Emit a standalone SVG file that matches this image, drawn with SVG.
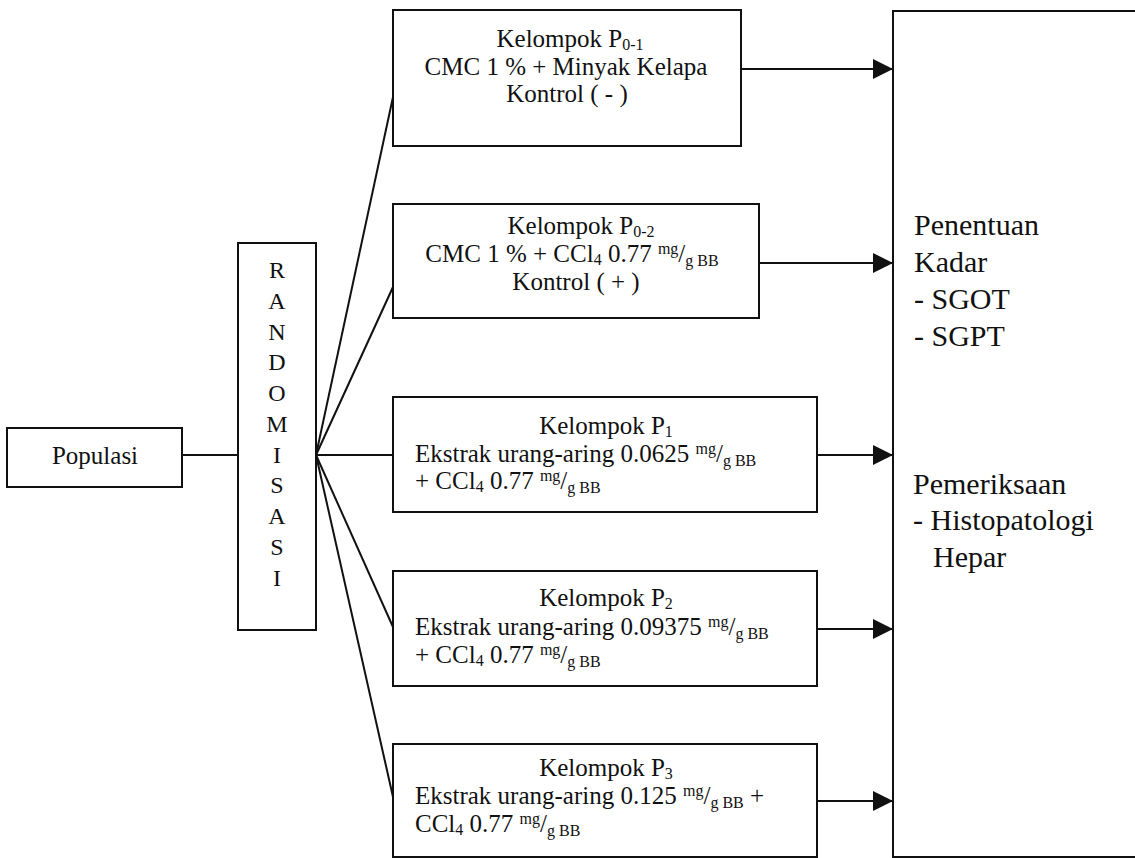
<svg xmlns="http://www.w3.org/2000/svg" width="1135" height="858" viewBox="0 0 1135 858" font-family="'Liberation Serif', 'DejaVu Serif', serif">
<style>
.box{fill:#fff;stroke:#111;stroke-width:2}
.ln{stroke:#111;stroke-width:2;fill:none}
text{font-family:'Liberation Serif','DejaVu Serif',serif;fill:#111;font-size:25px}
.c{text-anchor:middle}
.big{font-size:30px}
.s{font-size:16px}
.r{font-size:24px}
</style>
<defs>
<marker id="ah" viewBox="0 0 20 20" refX="20" refY="10" markerWidth="20" markerHeight="20" markerUnits="userSpaceOnUse" orient="auto">
<path d="M0,0 L20,10 L0,20 Z" fill="#111"/>
</marker>
</defs>
<g id="connectors">
<line class="ln" x1="182" y1="455" x2="238" y2="455"/>
<line class="ln" x1="316" y1="455" x2="393" y2="97"/>
<line class="ln" x1="316" y1="455" x2="393" y2="287"/>
<line class="ln" x1="316" y1="455" x2="393" y2="455"/>
<line class="ln" x1="316" y1="455" x2="393" y2="627"/>
<line class="ln" x1="316" y1="455" x2="393" y2="797"/>
<line class="ln" x1="741" y1="69" x2="893" y2="69" marker-end="url(#ah)"/>
<line class="ln" x1="759" y1="263" x2="893" y2="263" marker-end="url(#ah)"/>
<line class="ln" x1="817" y1="455" x2="893" y2="455" marker-end="url(#ah)"/>
<line class="ln" x1="817" y1="629" x2="893" y2="629" marker-end="url(#ah)"/>
<line class="ln" x1="817" y1="801" x2="893" y2="801" marker-end="url(#ah)"/>
</g>
<g id="populasi">
<rect class="box" x="7" y="428" width="175" height="59"/>
<text class="c" x="95" y="464">Populasi</text>
</g>
<g id="randomisasi">
<rect class="box" x="238" y="243" width="78" height="387"/>
<text class="c r" x="277" y="278">R</text>
<text class="c r" x="277" y="309">A</text>
<text class="c r" x="277" y="340">N</text>
<text class="c r" x="277" y="370">D</text>
<text class="c r" x="277" y="401">O</text>
<text class="c r" x="277" y="432">M</text>
<text class="c r" x="277" y="463">I</text>
<text class="c r" x="277" y="493">S</text>
<text class="c r" x="277" y="524">A</text>
<text class="c r" x="277" y="555">S</text>
<text class="c r" x="277" y="586">I</text>
</g>
<g id="p01">
<rect class="box" x="393" y="10" width="348" height="136"/>
<text class="c" x="570" y="47">Kelompok P<tspan class="s" dy="3">0-1</tspan></text>
<text class="c" x="566" y="75">CMC 1 % + Minyak Kelapa</text>
<text class="c" x="567" y="102">Kontrol ( - )</text>
</g>
<g id="p02">
<rect class="box" x="393" y="204" width="366" height="114"/>
<text class="c" x="581" y="234">Kelompok P<tspan class="s" dy="3">0-2</tspan></text>
<text class="c" x="572" y="262">CMC 1 % + CCl<tspan class="s" dy="3">4</tspan><tspan dy="-3"> 0.77 </tspan><tspan class="s" dy="-8">mg</tspan><tspan dy="8">/</tspan><tspan class="s" dy="4">g BB</tspan></text>
<text class="c" x="576" y="290">Kontrol ( + )</text>
</g>
<g id="p1">
<rect class="box" x="393" y="397" width="424" height="115"/>
<text class="c" x="606" y="434">Kelompok P<tspan class="s" dy="3">1</tspan></text>
<text x="415" y="462">Ekstrak urang-aring 0.0625 <tspan class="s" dy="-8">mg</tspan><tspan dy="8">/</tspan><tspan class="s" dy="4">g BB</tspan></text>
<text x="415" y="489">+ CCl<tspan class="s" dy="3">4</tspan><tspan dy="-3"> 0.77 </tspan><tspan class="s" dy="-8">mg</tspan><tspan dy="8">/</tspan><tspan class="s" dy="4">g BB</tspan></text>
</g>
<g id="p2">
<rect class="box" x="393" y="571" width="424" height="115"/>
<text class="c" x="606" y="606">Kelompok P<tspan class="s" dy="3">2</tspan></text>
<text x="415" y="635">Ekstrak urang-aring 0.09375 <tspan class="s" dy="-8">mg</tspan><tspan dy="8">/</tspan><tspan class="s" dy="4">g BB</tspan></text>
<text x="415" y="663">+ CCl<tspan class="s" dy="3">4</tspan><tspan dy="-3"> 0.77 </tspan><tspan class="s" dy="-8">mg</tspan><tspan dy="8">/</tspan><tspan class="s" dy="4">g BB</tspan></text>
</g>
<g id="p3">
<rect class="box" x="393" y="744" width="424" height="113"/>
<text class="c" x="606" y="776">Kelompok P<tspan class="s" dy="3">3</tspan></text>
<text x="415" y="804">Ekstrak urang-aring 0.125 <tspan class="s" dy="-8">mg</tspan><tspan dy="8">/</tspan><tspan class="s" dy="4">g BB</tspan><tspan dy="-4"> +</tspan></text>
<text x="415" y="832">CCl<tspan class="s" dy="3">4</tspan><tspan dy="-3"> 0.77 </tspan><tspan class="s" dy="-8">mg</tspan><tspan dy="8">/</tspan><tspan class="s" dy="4">g BB</tspan></text>
</g>
<g id="hasil">
<rect class="box" x="893" y="11" width="260" height="846"/>
<text class="big" x="914" y="235">Penentuan</text>
<text class="big" x="914" y="272">Kadar</text>
<text class="big" x="914" y="309">- SGOT</text>
<text class="big" x="914" y="346">- SGPT</text>
<text class="big" x="913" y="494">Pemeriksaan</text>
<text class="big" x="913" y="530">- Histopatologi</text>
<text class="big" x="933" y="567">Hepar</text>
</g>
</svg>
